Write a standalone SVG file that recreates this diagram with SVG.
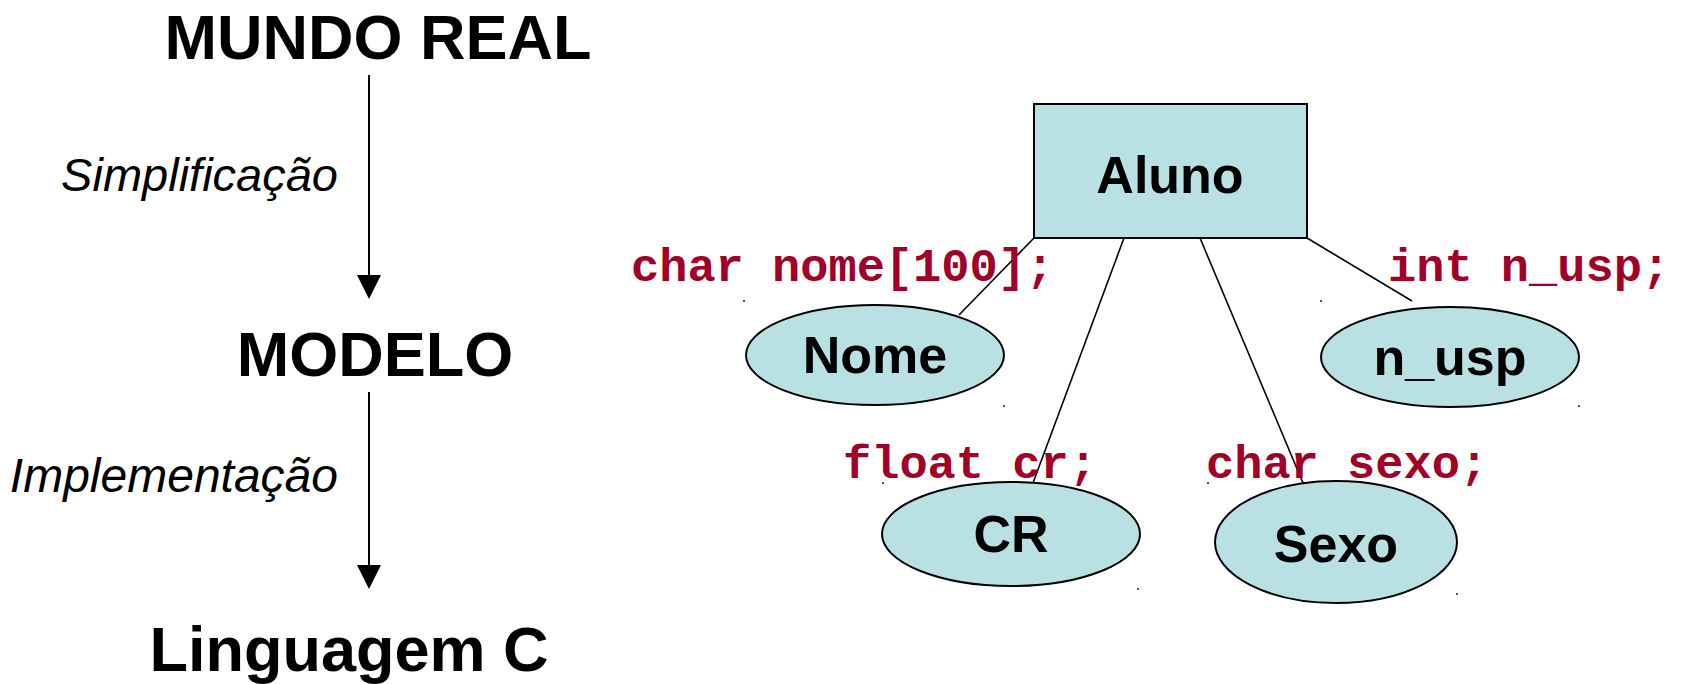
<svg xmlns="http://www.w3.org/2000/svg" width="1684" height="684" viewBox="0 0 1684 684">
<defs>
<style>
.big{font-family:"Liberation Sans",Arial,sans-serif;font-weight:bold;font-size:63px;fill:#000;text-anchor:middle}
.it{font-family:"Liberation Sans",Arial,sans-serif;font-style:italic;font-size:47px;fill:#000;text-anchor:end}
.lbl{font-family:"Liberation Sans",Arial,sans-serif;font-weight:bold;font-size:52px;fill:#000;text-anchor:middle}
.code{font-family:"Liberation Mono","Courier New",monospace;font-weight:bold;font-size:47px;fill:#A00028}
.shape{fill:#B9E0E3;stroke:#000;stroke-width:2}
.edge{stroke:#000;stroke-width:1.6;fill:none}
.arr{stroke:#000;stroke-width:2;fill:none}
.head{fill:#000}
.dot{fill:#555}
</style>
</defs>
<rect width="1684" height="684" fill="#fff"/>
<g id="connectors">
<path class="arr" d="M369,75 V275"/>
<path class="head" d="M357,275 L381,275 L369,299 z"/>
<path class="arr" d="M369,392 V565"/>
<path class="head" d="M357,565 L381,565 L369,589 z"/>
<line class="edge" x1="1034" y1="238" x2="959" y2="315"/>
<line class="edge" x1="1124" y1="238" x2="1033" y2="483"/>
<line class="edge" x1="1200" y1="238" x2="1303" y2="483"/>
<line class="edge" x1="1307" y1="238" x2="1412" y2="301"/>
</g>
<g id="mundo-real"><text class="big" x="378" y="59">MUNDO REAL</text></g>
<g id="simplificacao"><text class="it" x="338" y="191">Simplificação</text></g>
<g id="modelo"><text class="big" x="375" y="376">MODELO</text></g>
<g id="implementacao"><text class="it" x="338" y="492" style="font-size:48px">Implementação</text></g>
<g id="linguagem-c"><text class="big" x="349" y="671">Linguagem C</text></g>
<g id="aluno">
<rect class="shape" x="1034" y="104" width="273" height="134"/>
<text class="lbl" x="1170" y="193">Aluno</text>
</g>
<g id="nome">
<ellipse class="shape" cx="875" cy="355" rx="129" ry="50"/>
<text class="lbl" x="875" y="373">Nome</text>
<text class="code" x="631" y="281">char nome[100];</text>
<rect class="dot" x="743" y="300" width="2" height="2"/>
<rect class="dot" x="1003" y="405" width="2" height="2"/>
</g>
<g id="n_usp">
<ellipse class="shape" cx="1450" cy="357" rx="129" ry="50"/>
<text class="lbl" x="1450" y="375">n_usp</text>
<text class="code" x="1388" y="281">int n_usp;</text>
<rect class="dot" x="1320" y="300" width="2" height="2"/>
<rect class="dot" x="1578" y="405" width="2" height="2"/>
</g>
<g id="cr">
<ellipse class="shape" cx="1011" cy="534" rx="129" ry="52"/>
<text class="lbl" x="1011" y="552">CR</text>
<text class="code" x="843" y="478">float cr;</text>
<rect class="dot" x="882" y="482" width="2" height="2"/>
<rect class="dot" x="1137" y="588" width="2" height="2"/>
</g>
<g id="sexo">
<ellipse class="shape" cx="1336" cy="542" rx="121" ry="61"/>
<text class="lbl" x="1336" y="562">Sexo</text>
<text class="code" x="1206" y="478">char sexo;</text>
<rect class="dot" x="1207" y="482" width="2" height="2"/>
<rect class="dot" x="1456" y="593" width="2" height="2"/>
</g>
</svg>
